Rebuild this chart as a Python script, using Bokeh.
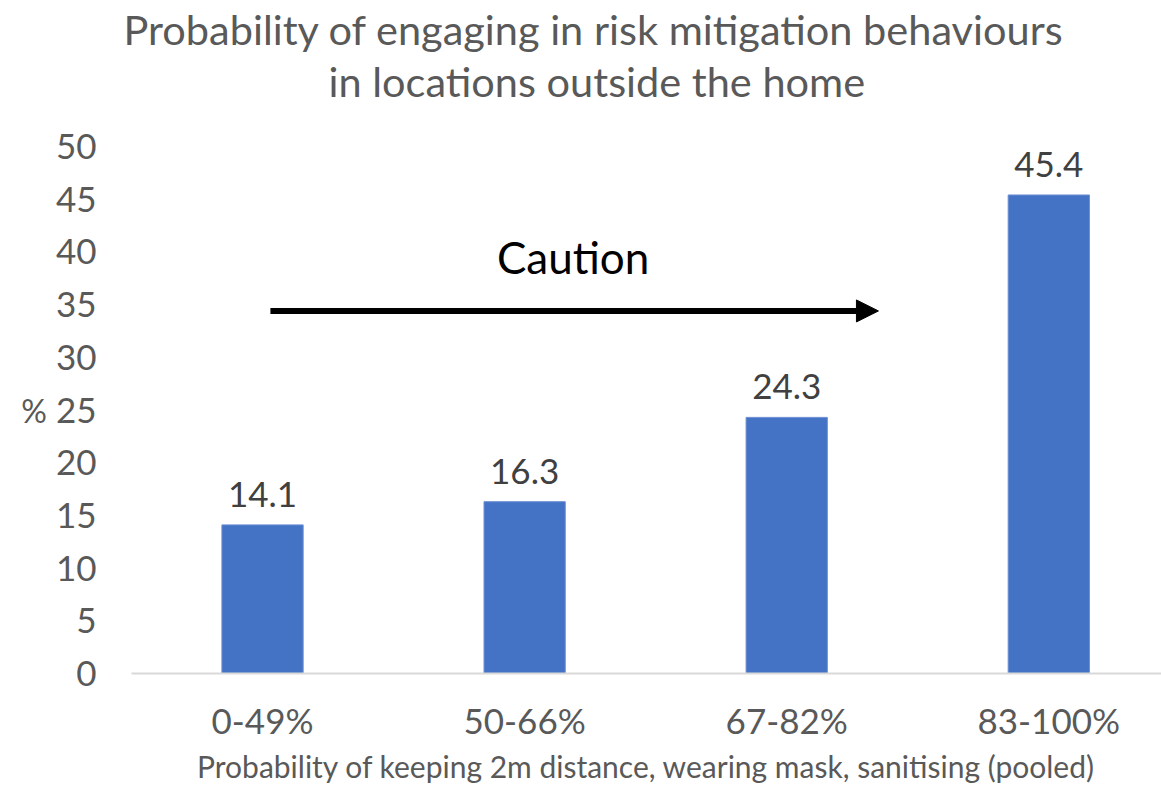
from bokeh.plotting import figure
from bokeh.models import (ColumnDataSource, Range1d, FixedTicker, LabelSet, Label,
                          Arrow, NormalHead, Title)
from bokeh.core.properties import value
from bokeh.embed import file_html
from bokeh.resources import INLINE

# Share of respondents engaging in risk mitigation outside the home, by caution band
categories = ["0-49%", "50-66%", "67-82%", "83-100%"]
values = [14.1, 16.3, 24.3, 45.4]
value_labels = ["14.1", "16.3", "24.3", "45.4"]
y_ticks = list(range(0, 55, 5))

title_lines = ["Probability of engaging in risk mitigation behaviours",
               "in locations outside the home"]
x_title = "Probability of keeping 2m distance, wearing mask, sanitising (pooled)"
y_title = "%"

FONT = "Lato"
GREY = "#595959"

positions = list(range(len(categories)))
src = ColumnDataSource(dict(x=positions, top=values, label=value_labels))

p = figure(width=1161, height=787, output_backend="svg", toolbar_location=None,
           x_range=Range1d(-0.5, 3.43), y_range=Range1d(0, 50),
           min_border_left=131, min_border_right=0, min_border_top=146,
           min_border_bottom=114)
p.outline_line_color = None
p.xgrid.grid_line_color = None
p.ygrid.grid_line_color = None
p.background_fill_color = "white"
p.border_fill_color = "white"

# two-line title: a blank gap panel next to the frame, then the second line,
# with the first line as the outermost plot title
title_style = dict(text_font=FONT, text_font_size="41.5px", text_font_style="normal",
                   text_color=GREY)
p.add_layout(Title(text=" ", standoff=0, text_font=FONT, text_font_size="32px"), "above")
p.add_layout(Title(text=title_lines[1], align="left", offset=197, standoff=0,
                   **title_style), "above")
p.title.text = title_lines[0]
p.title.align = "left"
p.title.offset = -8
p.title.standoff = 0
p.title.text_font = FONT
p.title.text_font_size = "41.5px"
p.title.text_font_style = "normal"
p.title.text_color = GREY

p.vbar(x="x", top="top", width=0.31, source=src,
       fill_color="#4472C4", line_color="#6b8fd4", line_width=1)

labels = LabelSet(x="x", y="top", text="label", source=src, text_align="center",
                  text_baseline="bottom", y_offset=18, text_font=value(FONT),
                  text_font_size=value("35px"), text_color=value("#404040"))
p.add_layout(labels)

# axes
xa = p.xaxis[0]
xa.ticker = FixedTicker(ticks=positions)
xa.major_label_overrides = {i: c for i, c in enumerate(categories)}
xa.major_tick_line_color = None
xa.minor_tick_line_color = None
xa.major_tick_out = 0
xa.axis_line_color = "#d9d9d9"
xa.axis_line_width = 2
xa.major_label_text_font = FONT
xa.major_label_text_font_size = "35px"
xa.major_label_text_color = GREY
xa.major_label_standoff = 25
xa.axis_label = x_title
xa.axis_label_text_font = FONT
xa.axis_label_text_font_size = "30px"
xa.axis_label_text_font_style = "normal"
xa.axis_label_text_color = GREY
xa.axis_label_standoff = 4

ya = p.yaxis[0]
ya.ticker = FixedTicker(ticks=y_ticks)
ya.axis_line_color = None
ya.major_tick_line_color = None
ya.minor_tick_line_color = None
ya.major_tick_out = 0
ya.major_label_text_font = FONT
ya.major_label_text_font_size = "35px"
ya.major_label_text_color = GREY
ya.major_label_standoff = 35
ya.axis_label = y_title
ya.axis_label_text_font = FONT
ya.axis_label_text_font_size = "32px"
ya.axis_label_text_font_style = "normal"
ya.axis_label_text_color = GREY
ya.axis_label_standoff = 6
if "axis_label_orientation" in ya.properties():
    ya.axis_label_orientation = "horizontal"

# caution arrow and caption
p.add_layout(Arrow(x_start=0.03, y_start=34.4, x_end=2.35, y_end=34.4, line_width=6,
                   line_color="black",
                   end=NormalHead(size=22, fill_color="black", line_color="black")))
p.add_layout(Label(x=1.185, y=39.5, text="Caution", text_align="center",
                   text_baseline="middle", text_font=FONT, text_font_size="44px",
                   text_color="black"))

open("out.html", "w").write(file_html(p, INLINE))
